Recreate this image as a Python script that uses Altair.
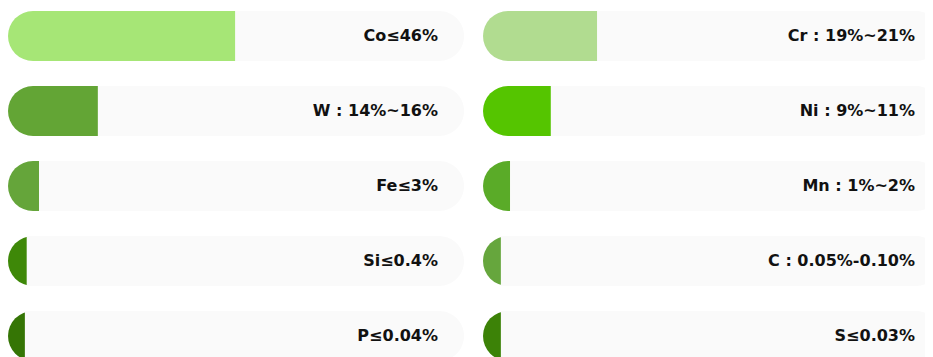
import altair as alt
import pandas as pd

# Left column
left_names = ["Co", "W", "Fe", "Si", "P"]
left_labels = ["Co≤46%", "W : 14%~16%", "Fe≤3%", "Si≤0.4%", "P≤0.04%"]
left_values = [49.8, 19.7, 6.8, 4.1, 3.7]  # filled share of the track, %
left_colors = ["#a6e676", "#63a535", "#65a53a", "#3e8808", "#357505"]

# Right column
right_names = ["Cr", "Ni", "Mn", "C", "S"]
right_labels = ["Cr : 19%~21%", "Ni : 9%~11%", "Mn : 1%~2%", "C : 0.05%-0.10%", "S≤0.03%"]
right_values = [24.9, 14.8, 5.9, 3.9, 3.9]
right_colors = ["#b1dc90", "#55c500", "#5aab28", "#66a63d", "#3c8207"]

BAR_H = 50
STEP = 75
TRACK = "#fafafa"


def panel(names, labels, values, colors, width, track_w):
    radius_pct = (BAR_H / 2) / track_w * 100
    df = pd.DataFrame({"name": names, "label": labels, "value": values, "color": colors})
    base = alt.Chart(df).transform_calculate(
        zero="0",
        full="100",
        r=str(radius_pct),
        body_end=f"max(datum.value, {radius_pct})",
        cover_end=f"max(datum.value, {2 * radius_pct})",
    )
    top = 3
    span = STEP * (len(names) - 1 / 3)
    y = alt.Y("name:N", sort=names, axis=None,
              scale=alt.Scale(paddingInner=1 / 3, paddingOuter=0,
                              range=[top, top + span]))
    xs = alt.Scale(domain=[0, 100], nice=False, zero=False, range=[0, track_w])
    col = alt.Color("color:N", scale=None, legend=None)

    bg = base.mark_rect(cornerRadius=BAR_H / 2, color=TRACK, clip=True).encode(
        x=alt.X("zero:Q", scale=xs, axis=None), x2="full:Q", y=y)
    circ = base.mark_point(shape="circle", filled=True, size=BAR_H * BAR_H,
                           opacity=1, strokeWidth=0, clip=True).encode(
        x=alt.X("r:Q", scale=xs, axis=None), y=y, color=col)
    body = base.mark_rect(clip=True).encode(
        x=alt.X("r:Q", scale=xs, axis=None), x2="body_end:Q", y=y, color=col)
    cover = base.mark_rect(color=TRACK, clip=True).encode(
        x=alt.X("value:Q", scale=xs, axis=None), x2="cover_end:Q", y=y)
    text = base.mark_text(align="right", baseline="middle", fontWeight="bold",
                          fontSize=16, font="DejaVu Sans", color="#111111",
                          dx=-26, clip=True).encode(
        x=alt.X("full:Q", scale=xs, axis=None), y=y, text="label:N")
    return alt.layer(bg, circ, body, cover, text).properties(width=width, height=349)


chart = alt.hconcat(
    panel(left_names, left_labels, left_values, left_colors, 456, 456),
    panel(right_names, right_labels, right_values, right_colors, 442, 458),
    spacing=19,
).properties(padding=0).configure_view(stroke=None)

chart.save("out.html", embed_options={"renderer": "svg", "actions": False})
